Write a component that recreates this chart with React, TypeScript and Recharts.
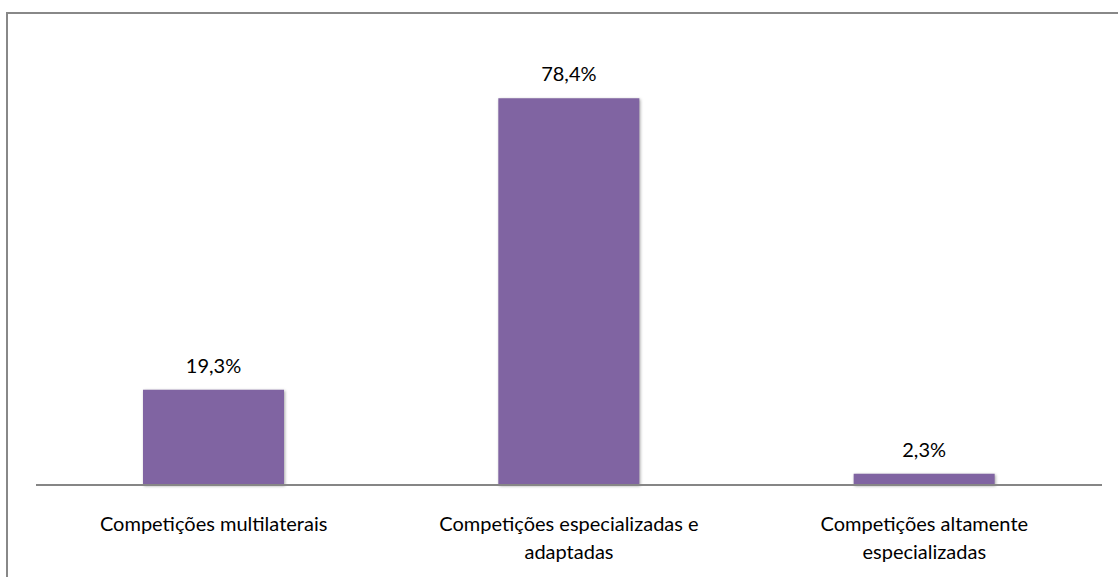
import { BarChart, Bar, XAxis, YAxis, LabelList, ReferenceLine } from "recharts";

const categories = [
  "Competições multilaterais",
  "Competições especializadas e adaptadas",
  "Competições altamente especializadas",
];
const shares = [19.3, 78.4, 2.3];

const data = categories.map((name, i) => ({ name, value: shares[i] }));

const FONT = "Lato, 'Open Sans', sans-serif";

// break a label into lines of at most maxChars characters
function wrap(text: string, maxChars: number) {
  const lines: string[] = [];
  let cur = "";
  text.split(" ").forEach((w) => {
    const next = cur ? cur + " " + w : w;
    if (next.length > maxChars && cur) {
      lines.push(cur);
      cur = w;
    } else {
      cur = next;
    }
  });
  if (cur) lines.push(cur);
  return lines;
}

function CategoryTick(props: any) {
  const { x, y, payload } = props;
  const lines = wrap(payload.value, 33);
  return (
    <text x={x} y={y} textAnchor="middle" fill="#000" fontSize={20} fontFamily={FONT}>
      {lines.map((l, i) => (
        <tspan key={i} x={x} dy={i === 0 ? 38 : 28}>
          {l}
        </tspan>
      ))}
    </text>
  );
}

export default function App() {
  return (
    <div
      style={{
        position: "absolute",
        left: 0,
        top: 0,
        width: 1118,
        height: 577,
        overflow: "hidden",
        background: "#fff",
      }}
    >
      <div
        style={{
          position: "absolute",
          left: 6,
          top: 12,
          width: 1130,
          height: 600,
          border: "2px solid #888",
          boxSizing: "border-box",
        }}
      />
      <div style={{ position: "absolute", left: 0, top: 0 }}>
        <BarChart
          width={1118}
          height={577}
          data={data}
          margin={{ top: 41, right: 16, bottom: 12, left: 36 }}
        >
          <XAxis
            dataKey="name"
            height={80}
            axisLine={false}
            tickLine={false}
            interval={0}
            tick={<CategoryTick />}
          />
          <YAxis hide domain={[0, 90]} />
          <ReferenceLine y={0} stroke="#868686" strokeWidth={2} />
          <Bar
            dataKey="value"
            fill="#8064A2"
            barSize={141}
            isAnimationActive={false}
            style={{ filter: "drop-shadow(1px 1px 1.5px rgba(0,0,0,0.35))" }}
          >
            <LabelList
              dataKey="value"
              position="top"
              offset={17}
              fill="#000"
              fontSize={20}
              fontFamily={FONT}
              formatter={(v: any) => `${Number(v).toFixed(1).replace(".", ",")}%`}
            />
          </Bar>
        </BarChart>
      </div>
    </div>
  );
}
